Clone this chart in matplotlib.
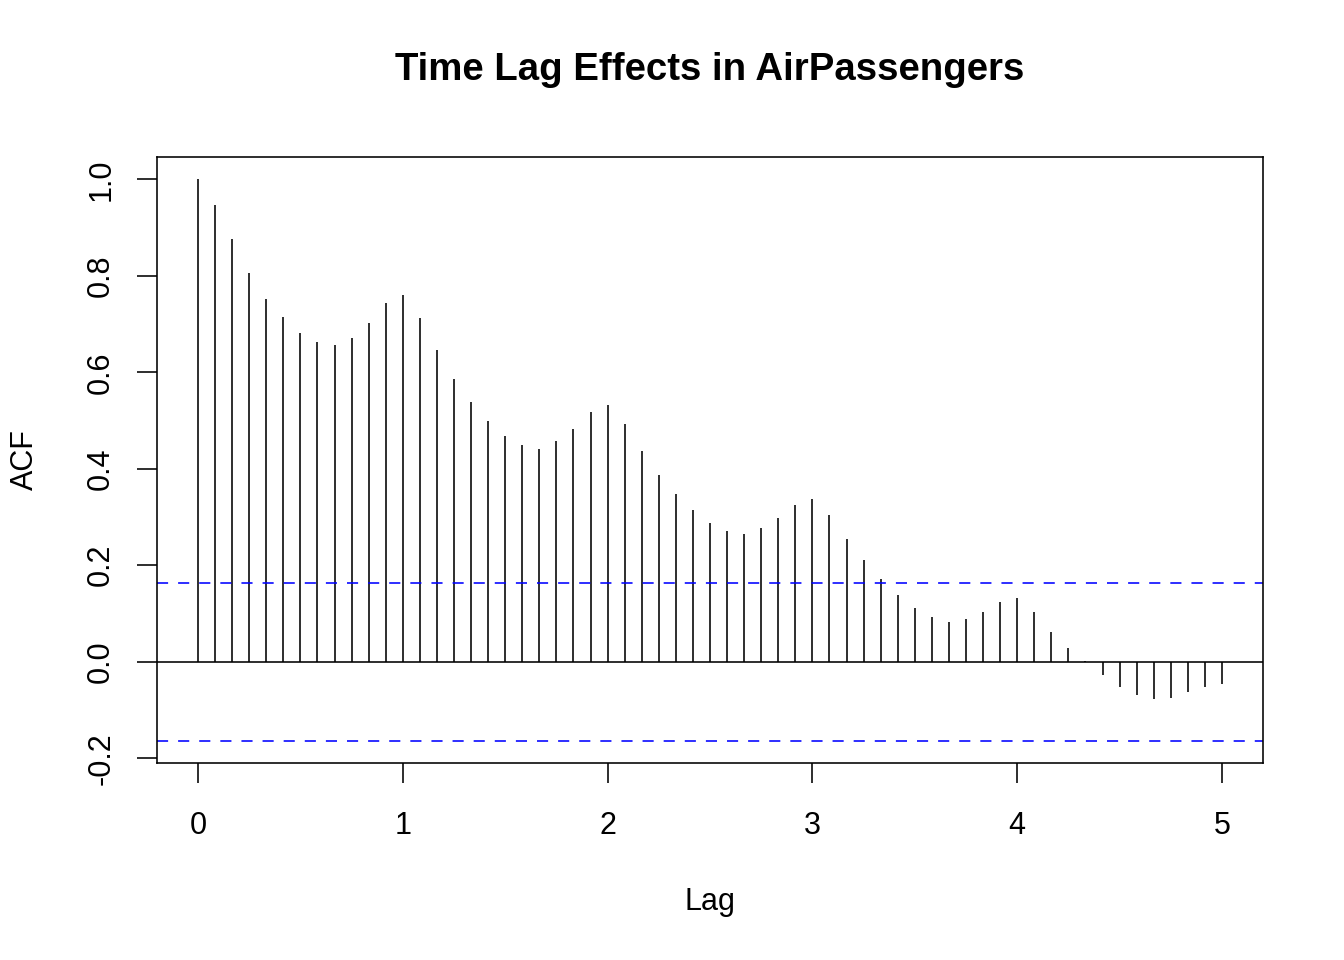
import matplotlib
matplotlib.use("Agg")
import matplotlib.pyplot as plt
import numpy as np

plt.rcParams['font.family'] = ['Liberation Sans', 'DejaVu Sans']
plt.rcParams['lines.scale_dashes'] = False

lags_months = list(range(0, 61))
acf_values = [1.000, 0.948, 0.876, 0.807, 0.753, 0.714, 0.682, 0.663, 0.656, 0.671,
              0.703, 0.743, 0.760, 0.713, 0.646, 0.586, 0.538, 0.500, 0.469, 0.450,
              0.442, 0.457, 0.482, 0.517, 0.532, 0.494, 0.437, 0.387, 0.348, 0.315,
              0.288, 0.271, 0.265, 0.278, 0.299, 0.326, 0.338, 0.304, 0.254, 0.212,
              0.172, 0.138, 0.111, 0.092, 0.082, 0.089, 0.104, 0.124, 0.133, 0.104,
              0.062, 0.029, 0.002, -0.027, -0.053, -0.069, -0.078, -0.075, -0.063,
              -0.053, -0.047]
conf_bound = 1.96 / np.sqrt(144)
x_ticks = [0, 1, 2, 3, 4, 5]
y_ticks = [-0.2, 0.0, 0.2, 0.4, 0.6, 0.8, 1.0]

W, H = 1344, 960
fig = plt.figure(figsize=(W / 100, H / 100), dpi=100)
ax = fig.add_axes([157 / W, 1 - 763 / H, (1263 - 157) / W, (763 - 157) / H])

lw = 1.15
lag_years = np.array(lags_months) / 12.0
ax.vlines(lag_years, 0, acf_values, color='black', linewidth=lw)
ax.axhline(0, color='black', linewidth=lw)
for b in (conf_bound, -conf_bound):
    ax.axhline(b, color='#0000ff', linewidth=lw, linestyle=(0, (8.0, 7.2)))

lo, hi = -conf_bound, 1.0
pad = 0.04 * (hi - lo)
ax.set_ylim(lo - pad, hi + pad)
ax.set_xlim(-0.2, 5.2)

ax.set_xticks(x_ticks)
ax.set_xticklabels([str(t) for t in x_ticks])
ax.set_yticks(y_ticks)
ax.set_yticklabels([f"{t:.1f}" for t in y_ticks], rotation=90, va='center')
ax.tick_params(direction='out', length=14.4, width=lw, labelsize=22, colors='black')
ax.tick_params(axis='x', pad=20.5)
ax.tick_params(axis='y', pad=15)
for s in ax.spines.values():
    s.set_linewidth(lw)

fig.text(710 / W, 1 - 70 / H, "Time Lag Effects in AirPassengers", ha='center', va='center',
         fontsize=27.6, fontweight='bold')
fig.text(710 / W, 1 - 902 / H, "Lag", ha='center', va='center', fontsize=22)
fig.text(25 / W, 1 - 460 / H, "ACF", ha='center', va='center', fontsize=22, rotation=90)

fig.savefig("out.png", dpi=100)
